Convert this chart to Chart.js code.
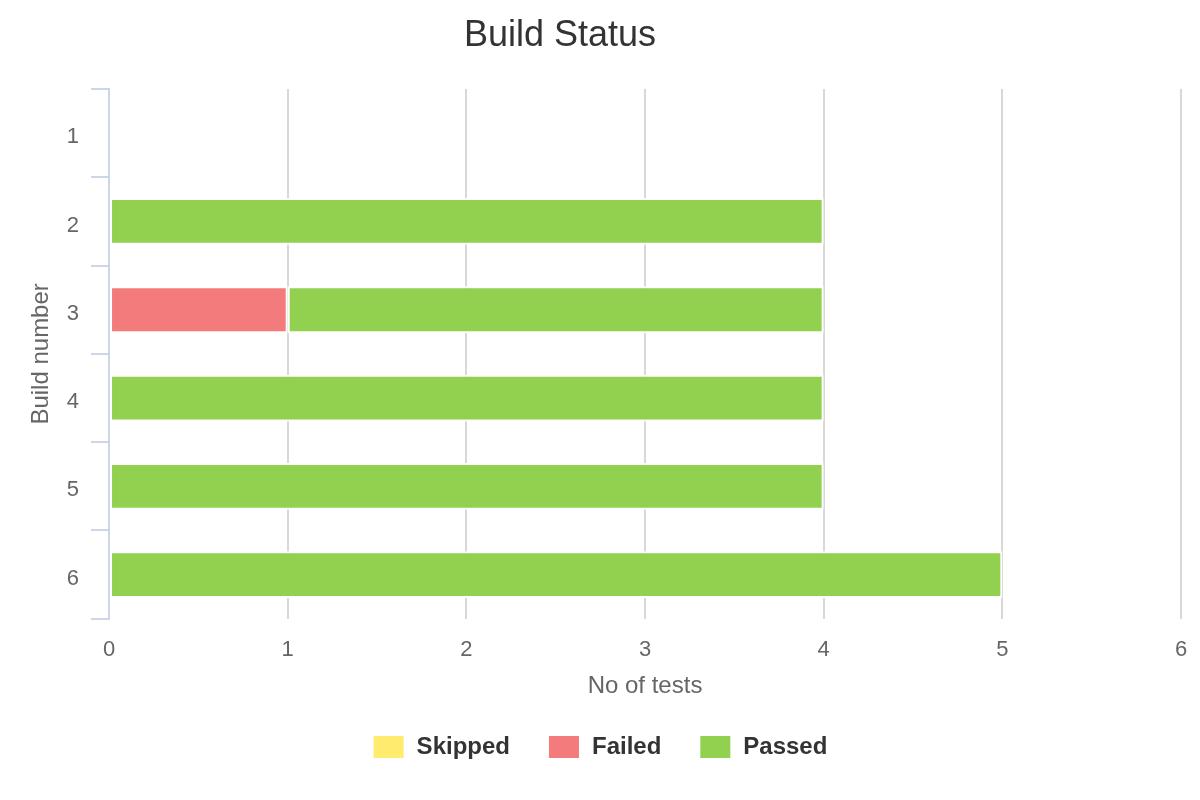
<!DOCTYPE html>
<html>
<head>
<meta charset="utf-8">
<script src="https://cdn.jsdelivr.net/npm/chart.js@4.4.0/dist/chart.umd.min.js"></script>
<style>
html,body{margin:0;padding:0;background:#fff;}
#wrap{width:1200px;height:800px;}
</style>
</head>
<body>
<div id="wrap"><canvas id="c" width="1200" height="800"></canvas></div>
<script>
const builds = ['1', '2', '3', '4', '5', '6'];
const skipped = [0, 0, 0, 0, 0, 0];
const failed = [0, 0, 1, 0, 0, 0];
const passed = [0, 4, 3, 4, 4, 5];
const xTicks = [0, 1, 2, 3, 4, 5, 6];
const chartTitle = 'Build Status';

const font = "'Liberation Sans', Arial, Helvetica, sans-serif";
Chart.defaults.font.family = font;

const bg = {
  id: 'bg',
  beforeDraw(chart) {
    const ctx = chart.ctx;
    ctx.save();
    ctx.fillStyle = '#ffffff';
    ctx.fillRect(0, 0, chart.width, chart.height);
    ctx.restore();
  },
  afterDraw(chart) {
    const ctx = chart.ctx;
    ctx.save();
    ctx.fillStyle = '#333333';
    ctx.font = '36px ' + font;
    ctx.textAlign = 'center';
    ctx.textBaseline = 'middle';
    ctx.fillText(chartTitle, 560, 36);
    ctx.restore();
  }
};

const common = {
  borderColor: '#ffffff',
  borderWidth: 2,
  borderSkipped: false,
  barPercentage: 0.53,
  categoryPercentage: 1.0
};

new Chart(document.getElementById('c'), {
  type: 'bar',
  data: {
    labels: builds,
    datasets: [
      Object.assign({ label: 'Skipped', data: skipped, backgroundColor: '#ffeb6e' }, common),
      Object.assign({ label: 'Failed', data: failed, backgroundColor: '#f47b7b' }, common),
      Object.assign({ label: 'Passed', data: passed, backgroundColor: '#92d050' }, common)
    ]
  },
  options: {
    indexAxis: 'y',
    responsive: false,
    animation: false,
    layout: { padding: { left: 19, right: 19, top: 89, bottom: 31 } },
    plugins: {
      title: { display: false },
      legend: {
        position: 'bottom',
        labels: {
          boxWidth: 32,
          boxHeight: 24,
          padding: 38,
          color: '#333333',
          font: { size: 24, weight: 'bold', family: font }
        }
      },
      tooltip: { enabled: false }
    },
    scales: {
      x: {
        stacked: true,
        min: 0,
        max: 6,
        afterBuildTicks(axis) { axis.ticks = xTicks.map(v => ({ value: v })); },
        afterFit(axis) { axis.paddingRight = 0; axis.paddingLeft = 0; },
        ticks: { color: '#666666', font: { size: 22, family: font }, padding: 18 },
        grid: { color: '#d8d8d8', lineWidth: 2, drawTicks: false },
        border: { display: false },
        title: {
          display: true,
          text: 'No of tests',
          color: '#666666',
          font: { size: 24, family: font },
          padding: { top: -9, bottom: -4 }
        }
      },
      y: {
        stacked: true,
        offset: true,
        ticks: { color: '#666666', font: { size: 22, family: font }, padding: 12, labelOffset: 4 },
        grid: {
          offset: true,
          drawOnChartArea: false,
          drawTicks: true,
          tickLength: 18,
          color: '#ccd6eb',
          lineWidth: 2
        },
        border: { display: true, color: '#ccd6eb', width: 2 },
        title: {
          display: true,
          text: 'Build number',
          color: '#666666',
          font: { size: 24, family: font },
          padding: { top: 8, bottom: -1 }
        }
      }
    }
  },
  plugins: [bg]
});
</script>
</body>
</html>
